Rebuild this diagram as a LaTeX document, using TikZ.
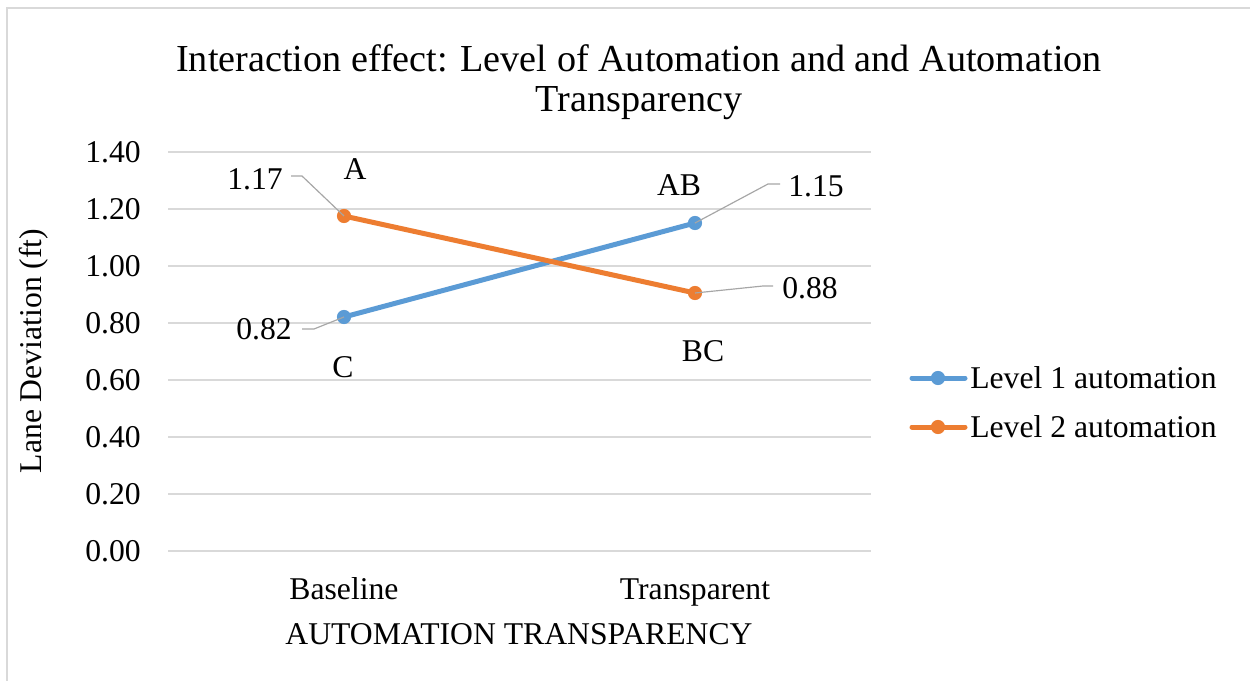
\documentclass[tikz,border=0pt]{standalone}
\usepackage{fontspec}
\setmainfont{Liberation Serif}
\definecolor{serA}{HTML}{5B9BD5}
\definecolor{serB}{HTML}{ED7D31}
\definecolor{gridc}{HTML}{D9D9D9}
\definecolor{leadc}{HTML}{A6A6A6}
\tikzset{
  grid line/.style={draw=gridc, line width=1.2pt},
  frame line/.style={draw=gridc, line width=1.2pt},
  series/.style={line width=3pt, line cap=round},
  pt/.style={circle, fill=#1, inner sep=0pt, minimum size=8.5pt},
  leader/.style={draw=leadc, line width=0.7pt},
  lbl/.style={inner sep=0pt, font=\fontsize{19}{22}\selectfont},
  ttl/.style={inner sep=0pt, font=\fontsize{22.9}{27}\selectfont, align=center},
}
\begin{document}
\begin{tikzpicture}[x=0.6pt,y=-0.6pt]
\useasboundingbox (0,0) rectangle (1250,681);
\fill[white] (0,0) rectangle (1250,681);
\draw[frame line] (7,681) -- (7,8) -- (1250,8);
% title
\node[ttl] (t1) at (639,58) {Interaction effect: Level of Automation and and Automation};
\node[ttl] (t2) at (639,103) {Transparency};
% grid
\foreach \k/\v in {0/0.00,1/0.20,2/0.40,3/0.60,4/0.80,5/1.00,6/1.20,7/1.40}{
  \draw[grid line] (168,551-57*\k) -- (871,551-57*\k);
  \node[lbl, anchor=east] (tick\k) at (141,551-57*\k) {\v};
}
% axis labels
\node[lbl, rotate=90] (ylab) at (34,351) {Lane Deviation (ft)};
\node[lbl, anchor=base] (cat1) at (344,599) {Baseline};
\node[lbl, anchor=base] (cat2) at (695,599) {Transparent};
\node[lbl, anchor=base] (xlab) at (519,644) {AUTOMATION TRANSPARENCY};
% data points
\coordinate (a1) at (344,317);
\coordinate (a2) at (695,223);
\coordinate (b1) at (344,216);
\coordinate (b2) at (695,293);
\draw[series, serA] (a1) -- (a2);
\draw[series, serB] (b1) -- (b2);
\node[pt=serA] (pa1) at (a1) {};
\node[pt=serA] (pa2) at (a2) {};
\node[pt=serB] (pb1) at (b1) {};
\node[pt=serB] (pb2) at (b2) {};
% value labels with leaders
\node[lbl] (v117) at (255,179) {1.17};
\node[lbl] (v082) at (264,329) {0.82};
\node[lbl] (v115) at (816,186) {1.15};
\node[lbl] (v088) at (810,288) {0.88};
\coordinate (s117) at (291,176);
\coordinate (k117) at (302,176);
\coordinate (s082) at (302,329);
\coordinate (k082) at (314,329);
\coordinate (s115) at (780,184);
\coordinate (k115) at (768,184);
\coordinate (s088) at (773,286);
\coordinate (k088) at (763,286);
\draw[leader] (s117) -- (k117) -- (pb1.center);
\draw[leader] (s082) -- (k082) -- (pa1.center);
\draw[leader] (s115) -- (k115) -- (pa2.center);
\draw[leader] (s088) -- (k088) -- (pb2.center);
% letters
\node[lbl] (lA) at (355,169) {A};
\node[lbl] (lC) at (343,367) {C};
\node[lbl] (lAB) at (679,185) {AB};
\node[lbl] (lBC) at (703,351) {BC};
% legend
\coordinate (g1s) at (912,378);
\coordinate (g1e) at (965,378);
\coordinate (g2s) at (912,427);
\coordinate (g2e) at (965,427);
\draw[series, serA] (g1s) -- (g1e);
\draw[series, serB] (g2s) -- (g2e);
\node[pt=serA] (gm1) at (938,378) {};
\node[pt=serB] (gm2) at (938,427) {};
\node[lbl, anchor=west] (gt1) at (970,378) {Level 1 automation};
\node[lbl, anchor=west] (gt2) at (970,427) {Level 2 automation};
\end{tikzpicture}
\end{document}
